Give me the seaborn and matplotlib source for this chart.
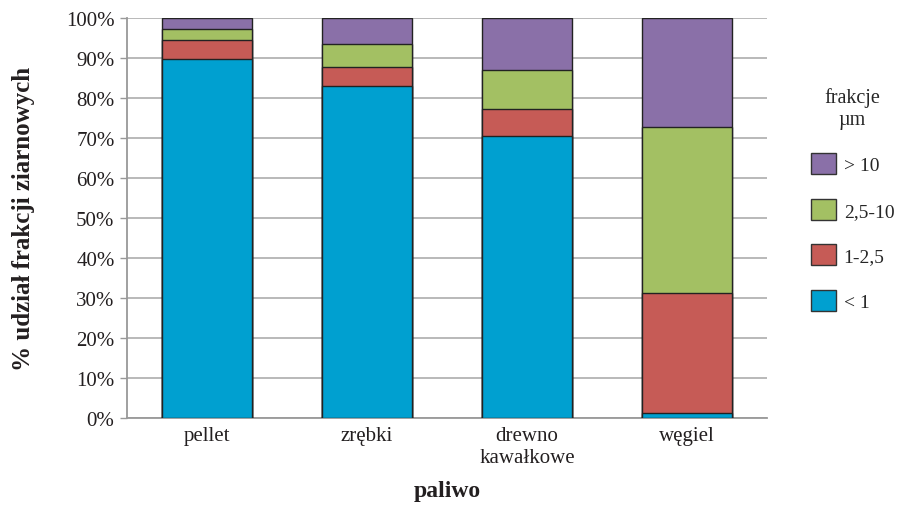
import numpy as np
import pandas as pd
import matplotlib
matplotlib.use('Agg')
import matplotlib.pyplot as plt
import seaborn as sns
from matplotlib.patches import Patch

# ── data (% share of particle fraction) ──────────────────────────────────
categories = ['pellet', 'zrębki', 'drewno\nkawałkowe', 'węgiel']
frac_lt1   = [89.8, 83.0, 70.6, 1.2]
frac_1_25  = [4.7, 4.8, 6.6, 30.0]
frac_25_10 = [2.8, 5.8, 9.8, 41.5]
frac_gt10  = [2.7, 6.4, 13.0, 27.3]

series_names  = ['< 1', '1-2,5', '2,5-10', '> 10']
series_values = [frac_lt1, frac_1_25, frac_25_10, frac_gt10]
colors        = ['#00A0D0', '#C65B56', '#A3C063', '#8A70A8']

sns.set_theme(style='white')
plt.rcParams['font.family'] = ['Liberation Serif', 'DejaVu Serif']

fig = plt.figure(figsize=(8.99, 5.06), dpi=100)
ax = fig.add_axes([0.1413, 0.172, 0.712, 0.7905])

# stacked bars: draw cumulative totals from the top layer down
cum = np.cumsum(np.array(series_values), axis=0)
for i in reversed(range(len(series_names))):
    df = pd.DataFrame({'cat': categories, 'val': cum[i]})
    sns.barplot(data=df, x='cat', y='val', ax=ax, color=colors[i],
                saturation=1, width=0.5625, edgecolor='#222222',
                linewidth=1.0, zorder=3)

ax.set_xlim(-0.5, 3.5)
ax.set_ylim(0, 100)
ax.set_yticks(np.arange(0, 101, 10))
ax.set_yticklabels([f'{v}%' for v in range(0, 101, 10)], fontsize=15, color='#231F20')
ax.tick_params(axis='y', length=5, width=1, color='#999999', direction='out', pad=4, left=True)
ax.tick_params(axis='x', length=0, labelsize=15, labelcolor='#231F20', pad=6)
ax.yaxis.grid(True, color='#B3B3B3', linewidth=1.3, zorder=0)
ax.set_axisbelow(True)

for side in ['top', 'right']:
    ax.spines[side].set_visible(False)
for side in ['left', 'bottom']:
    ax.spines[side].set_color('#999999')
    ax.spines[side].set_linewidth(1.3)

ax.set_xlabel('paliwo', fontsize=17, fontweight='bold', color='#231F20', labelpad=9)
ax.set_ylabel('% udział frakcji ziarnowych', fontsize=18, fontweight='bold',
              color='#231F20', labelpad=22)

handles = [Patch(facecolor=colors[i], edgecolor='#333333', label=series_names[i])
           for i in reversed(range(len(series_names)))]
leg = fig.legend(handles=handles, title='frakcje\nµm', loc='center left',
                 bbox_to_anchor=(0.893, 0.605), frameon=False, fontsize=14,
                 title_fontsize=14.5, handlelength=1.3, handleheight=1.3,
                 labelspacing=1.25, handletextpad=0.4, borderaxespad=0)
leg.get_title().set_multialignment('center')

plt.savefig('out.png', dpi=100)
